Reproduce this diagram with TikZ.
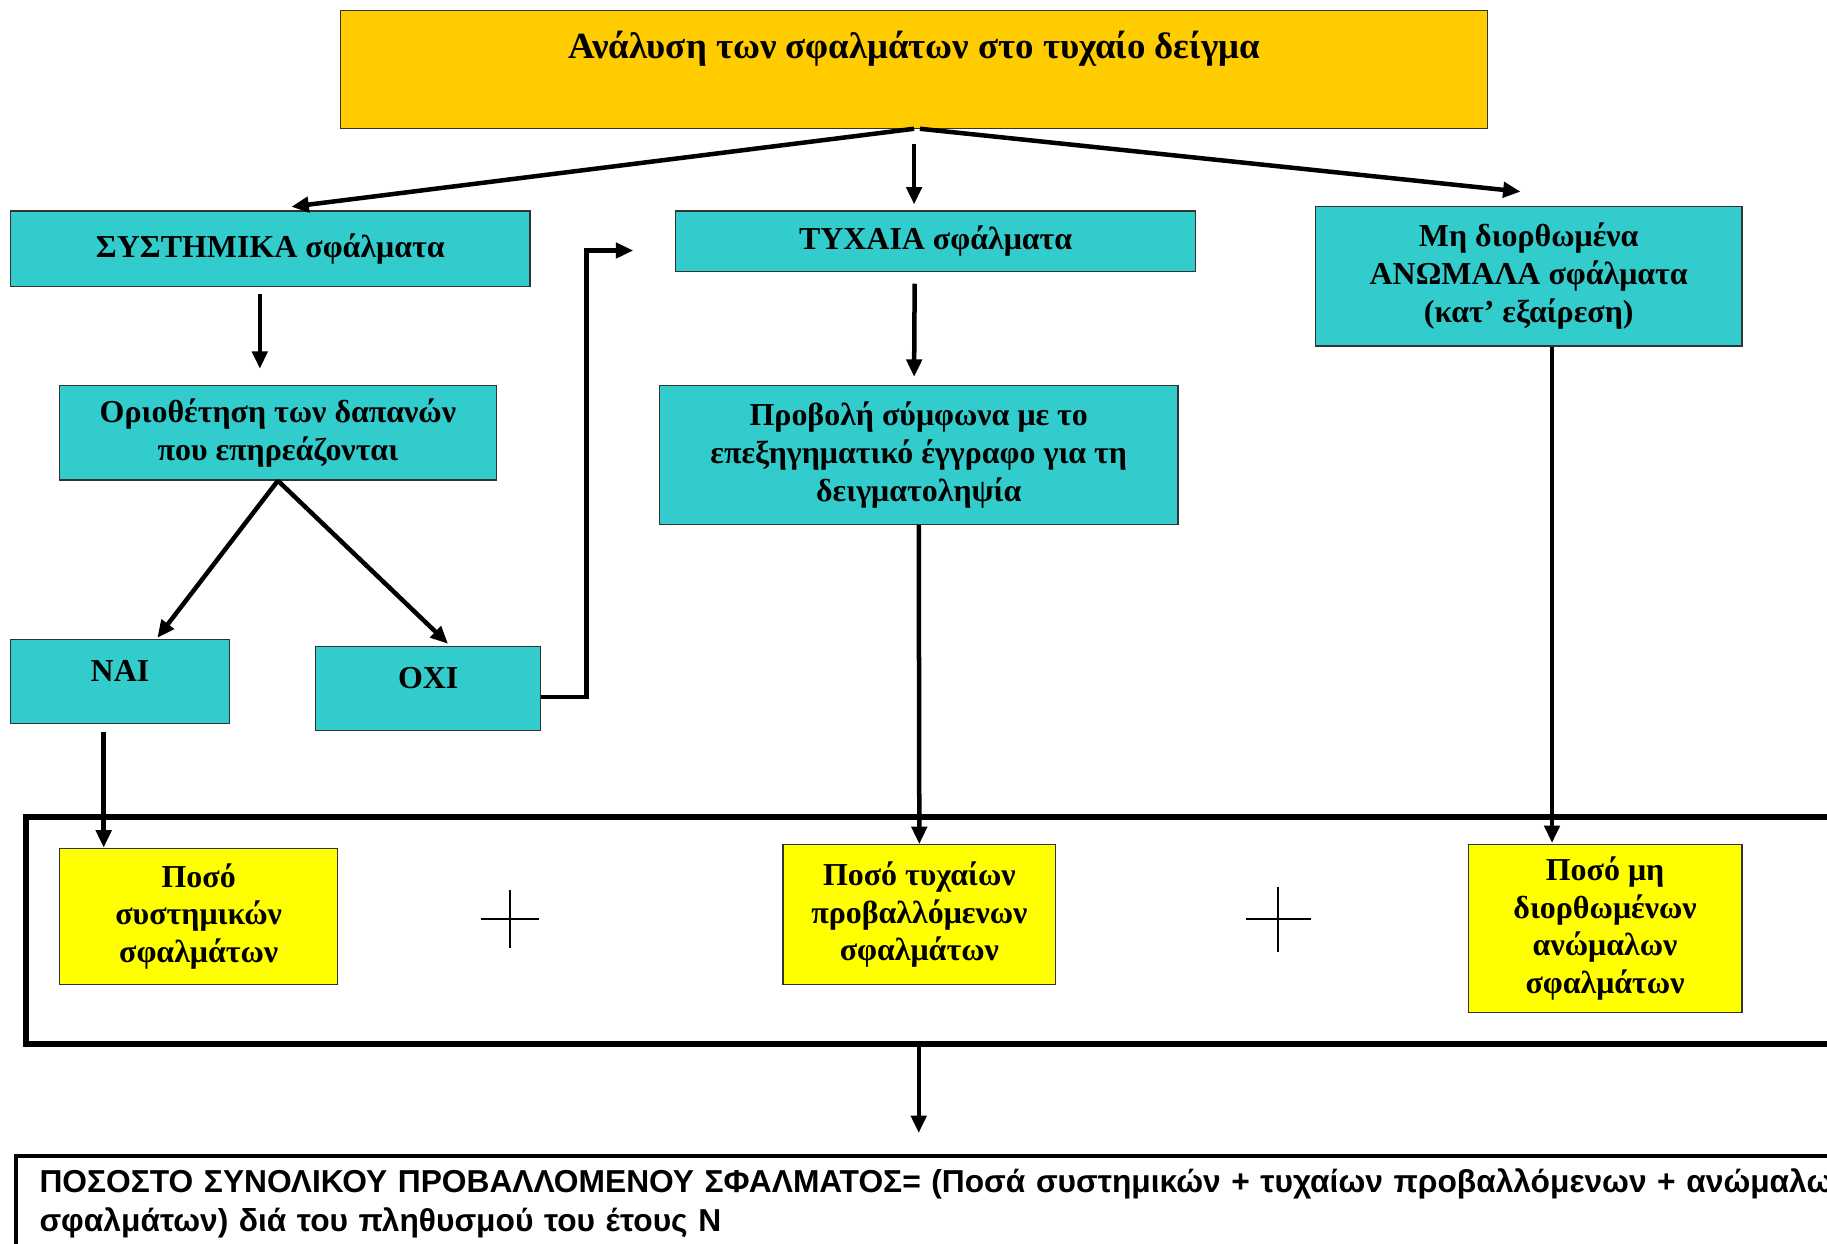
\documentclass[tikz,border=0pt]{standalone}
\usepackage{fontspec}
\setmainfont{Liberation Serif}
\newfontfamily\sumfont{Liberation Sans}
\usetikzlibrary{arrows.meta,calc}

\definecolor{titlegold}{HTML}{FFCC00}
\definecolor{boxteal}{HTML}{33CCCC}
\definecolor{sumyellow}{HTML}{FFFF00}

\tikzset{
  box/.style={draw=black!80, line width=0.6pt, align=center, inner sep=0pt,
    font=\fontsize{15.6}{18.4}\selectfont\bfseries},
  dims/.style 2 args={minimum width=#1, minimum height=#2},
  tealbox/.style={box, fill=boxteal},
  sumbox/.style={box, fill=sumyellow},
  conn/.style={line width=2.2pt, -{Triangle[length=0.3cm, width=0.26cm]}},
}

\begin{document}
\begin{tikzpicture}[x=0.02cm, y=-0.02cm]

\path[use as bounding box, clip] (0,0) rectangle (1568,1067);

% top row
\node[box, fill=titlegold, dims={19.7cm}{2.02cm}, text height=0.4cm, text depth=0.78cm,
  font=\fontsize{18}{20}\selectfont\bfseries]
  (top) at (784.5,59.5) {Ανάλυση των σφαλμάτων στο τυχαίο δείγμα};
\node[tealbox, dims={8.92cm}{1.3cm}] (sys) at (232,213.5) {ΣΥΣΤΗΜΙΚΑ σφάλματα};
\node[tealbox, dims={8.92cm}{1.04cm}] (tyx) at (803,207) {ΤΥΧΑΙΑ σφάλματα};
\node[tealbox, dims={7.32cm}{2.4cm}] (anom) at (1312,237)
  {Μη διορθωμένα\\ΑΝΩΜΑΛΑ σφάλματα\\(κατ’ εξαίρεση)};

\draw[conn] (top.south) -- ($(sys.north)+(18,-3)$);
\draw[conn] ($(top.south)+(0,13)$) -- ++(0,52);
\draw[conn] ($(top.south)+(5,0)$) -- ($(anom.north)+(-7,-12)$);

% second row
\node[tealbox, dims={7.5cm}{1.62cm}] (orio) at (238.5,371.5)
  {Οριοθέτηση των δαπανών\\που επηρεάζονται};
\node[tealbox, dims={8.9cm}{2.38cm}] (prov) at (788.5,390.5)
  {Προβολή σύμφωνα με το\\επεξηγηματικό έγγραφο για τη\\δειγματοληψία};

\draw[conn] ($(sys.south)+(-9,6)$) -- ++(0,64);
\draw[conn] ($(tyx.south)+(-18,10)$) -- ($(prov.north)+(-4,-7)$);

\node[tealbox, dims={3.76cm}{1.44cm}, text depth=0.36cm] (nai) at (103,585) {ΝΑΙ};
\node[tealbox, dims={3.86cm}{1.44cm}, text depth=0.36cm] (oxi) at (367.5,591) {ΟΧΙ};

\draw[conn] (orio.south) -- ($(nai.north)+(32,-1)$);
\draw[conn] (orio.south) -- ($(oxi.north)+(17,-2)$);
\draw[conn] ($(oxi.east)+(0,7)$) -- ++(39,0) -- ++(0,-383) -- ++(40,0);

% sum of the three amounts
\node[draw, line width=2.8pt, dims={31.56cm}{3.9cm}] (frame) at (811,798.5) {};
\node[sumbox, dims={4.78cm}{2.34cm}] (psys) at (170.5,786.5)
  {Ποσό\\συστημικών\\σφαλμάτων};
\node[sumbox, dims={4.68cm}{2.4cm}] (ptyx) at (789,785)
  {Ποσό τυχαίων\\προβαλλόμενων\\σφαλμάτων};
\node[sumbox, dims={4.7cm}{2.88cm}] (pmh) at (1377.5,797)
  {Ποσό μη\\διορθωμένων\\ανώμαλων\\σφαλμάτων};

\foreach \px/\py/\arm in {438/789/25, 1097/789/28}
  \draw[line width=1.1pt] (\px-\arm,\py) -- (\px+\arm,\py) (\px,\py-\arm) -- (\px,\py+\arm);

\draw[conn] ($(nai.south)+(-14,7)$) -- ++(0,99);
\draw[conn] (prov.south) -- (ptyx.north);
\draw[conn] ($(anom.south)+(20,0)$) -- ++(0,426);

% result
\node[draw, line width=2.2pt, anchor=north west, text width=34cm, align=left,
  inner xsep=0.4cm, inner ysep=0.05cm, minimum height=1.64cm,
  font=\sumfont\bfseries\fontsize{15.5}{19.2}\selectfont] (total) at (12,990)
  {ΠΟΣΟΣΤΟ ΣΥΝΟΛΙΚΟΥ ΠΡΟΒΑΛΛΟΜΕΝΟΥ ΣΦΑΛΜΑΤΟΣ= (Ποσά συστημικών + τυχαίων προβαλλόμενων + ανώμαλων\\
   σφαλμάτων) διά του πληθυσμού του έτους Ν};

\draw[conn] (frame.south -| prov.south) -- ++(0,74);

\end{tikzpicture}
\end{document}
